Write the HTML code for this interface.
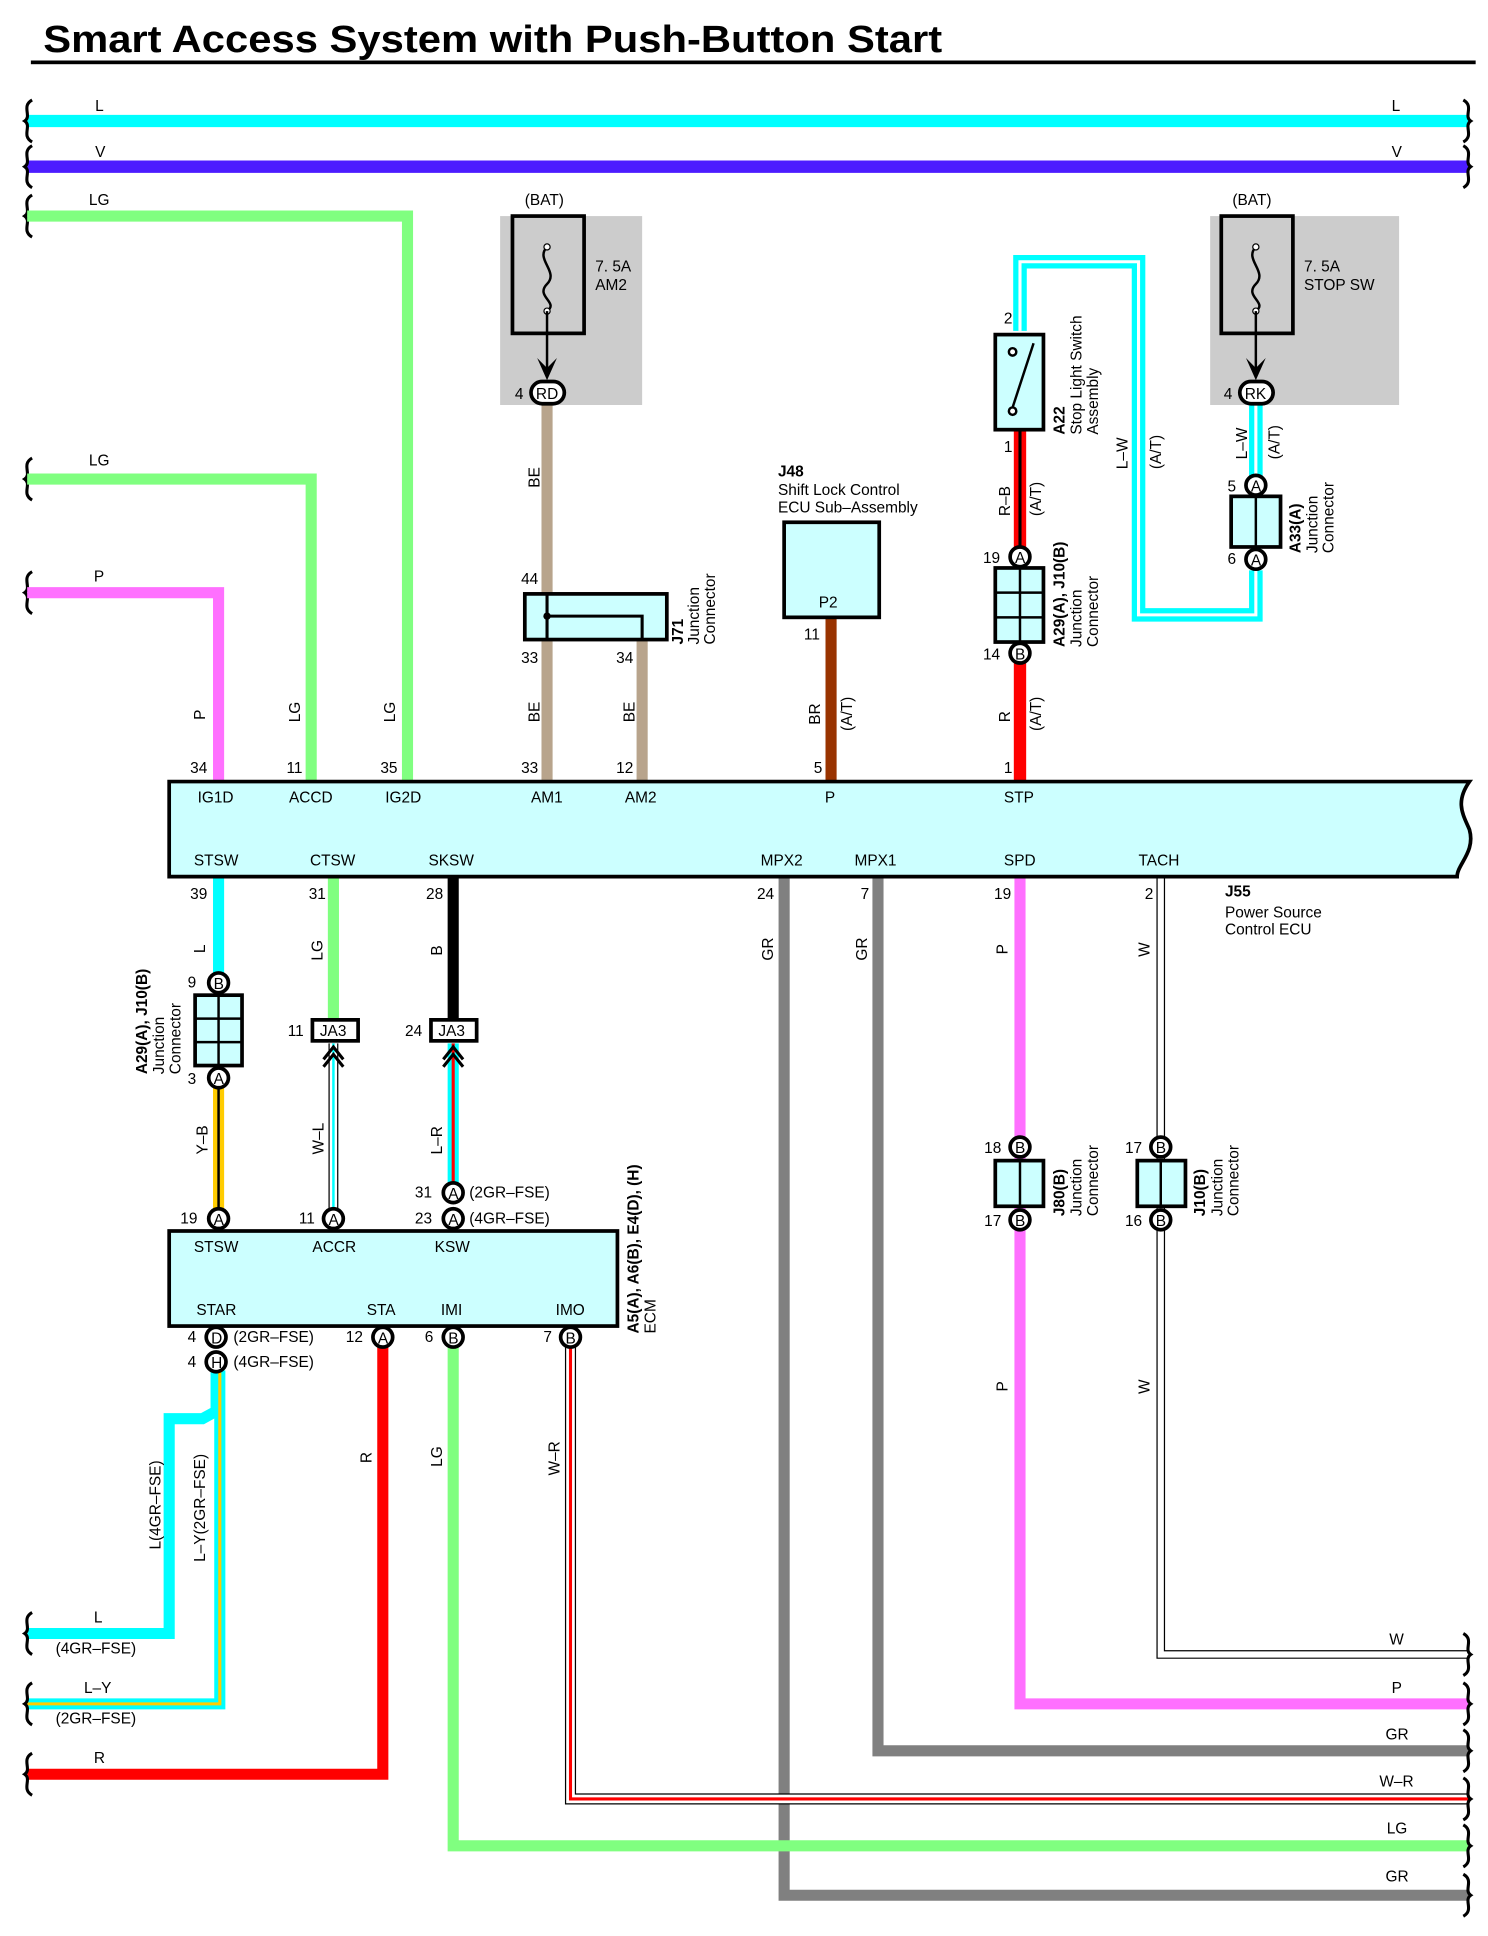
<!DOCTYPE html>
<html><head><meta charset="utf-8"><style>
html,body{margin:0;padding:0;background:#fff}
svg{display:block}
text{font-family:"Liberation Sans",sans-serif;font-size:12.5px;fill:#000}
.b{font-weight:bold}
</style></head><body>
<svg width="1488" height="1936" viewBox="0 0 1205 1568" preserveAspectRatio="none" xmlns="http://www.w3.org/2000/svg">
<defs>
<path id="brL" d="M26,-17 C17,-12 26,-4 20,0 C26,4 17,12 26,17" fill="none" stroke="#000" stroke-width="2.5"/>
<path id="brR" d="M1185,-17 C1194,-12 1185,-4 1191,0 C1185,4 1194,12 1185,17" fill="none" stroke="#000" stroke-width="2.5"/>
</defs>
<text x="35" y="42" class="b" style="font-size:31px" textLength="728" lengthAdjust="spacingAndGlyphs">Smart Access System with Push-Button Start</text>
<rect x="25" y="49" width="1170" height="3" fill="#000"/>

<line x1="22" y1="98" x2="1190" y2="98" stroke="#00ffff" stroke-width="10"/>
<line x1="22" y1="135" x2="1190" y2="135" stroke="#4c1cff" stroke-width="10"/>
<text x="77" y="90">L</text><text x="1127" y="90">L</text>
<text x="77" y="127">V</text><text x="1127" y="127">V</text>
<use href="#brL" y="98"/><use href="#brR" y="98"/>
<use href="#brL" y="135"/><use href="#brR" y="135"/>
<use href="#brL" y="175"/><use href="#brL" y="388"/><use href="#brL" y="480"/>

<path d="M22,175 H330 V633" fill="none" stroke="#80ff80" stroke-width="9"/>
<text x="72" y="166">LG</text>
<path d="M22,388 H252 V633" fill="none" stroke="#80ff80" stroke-width="9"/>
<text x="72" y="377">LG</text>
<path d="M22,480 H177 V633" fill="none" stroke="#ff70ff" stroke-width="9"/>
<text x="76" y="471">P</text>

<rect x="405" y="175" width="115" height="153" fill="#cccccc"/>
<text x="425" y="166">(BAT)</text>
<rect x="415" y="175" width="58" height="95" fill="none" stroke="#000" stroke-width="3"/>
<path d="M443,200 C433,210 453,220 443,230 C433,240 453,245 443,252" fill="none" stroke="#000" stroke-width="2"/>
<circle cx="443" cy="200" r="2.5" fill="#fff" stroke="#000"/><circle cx="443" cy="252" r="2.5" fill="#fff" stroke="#000"/>
<line x1="443" y1="252" x2="443" y2="305" stroke="#000" stroke-width="2"/>
<path d="M435,290 L443,308 L451,290 L443,298 Z" fill="#000"/>
<text x="482" y="220">7. 5A</text><text x="482" y="235">AM2</text>
<line x1="443" y1="326" x2="443" y2="633" stroke="#b8a48c" stroke-width="9"/>
<rect x="430" y="309" width="27" height="18" rx="9" fill="#fff" stroke="#000" stroke-width="3"/>
<text x="434" y="323">RD</text><text x="417" y="323">4</text>
<text x="437" y="395" transform="rotate(-90 437 395)">BE</text>
<text x="422" y="473">44</text>
<line x1="520" y1="518" x2="520" y2="633" stroke="#b8a48c" stroke-width="9"/>
<rect x="425" y="481" width="115" height="37" fill="#ccffff" stroke="#000" stroke-width="3"/>
<path d="M443,481 V518 M443,499 H520 V518" fill="none" stroke="#000" stroke-width="2.5"/>
<circle cx="443" cy="499" r="3" fill="#000"/>
<text x="422" y="537">33</text><text x="499" y="537">34</text>
<text x="553" y="522" transform="rotate(-90 553 522)" class="b">J71</text>
<text x="566" y="522" transform="rotate(-90 566 522)">Junction</text>
<text x="579" y="522" transform="rotate(-90 579 522)">Connector</text>
<text x="437" y="585" transform="rotate(-90 437 585)">BE</text>
<text x="514" y="585" transform="rotate(-90 514 585)">BE</text>

<text x="630" y="386" class="b">J48</text>
<text x="630" y="401">Shift Lock Control</text>
<text x="630" y="415">ECU Sub–Assembly</text>
<line x1="673" y1="500" x2="673" y2="633" stroke="#993300" stroke-width="9"/>
<rect x="635" y="423" width="77" height="77" fill="#ccffff" stroke="#000" stroke-width="3"/>
<text x="663" y="492">P2</text><text x="651" y="518">11</text>
<text x="664" y="587" transform="rotate(-90 664 587)">BR</text>
<text x="690" y="592" transform="rotate(-90 690 592)">(A/T)</text>

<path d="M826,268 V212 H922 V498 H1017 V462" fill="none" stroke="#00ffff" stroke-width="11"/>
<path d="M826,268 V212 H922 V498 H1017 V462" fill="none" stroke="#fff" stroke-width="2.5"/>
<path d="M1017,326 V390" fill="none" stroke="#00ffff" stroke-width="11"/>
<path d="M1017,326 V390" fill="none" stroke="#fff" stroke-width="2.5"/>
<line x1="826" y1="348" x2="826" y2="445" stroke="#f00" stroke-width="10"/>
<line x1="826" y1="348" x2="826" y2="445" stroke="#000" stroke-width="2.5"/>
<line x1="826" y1="535" x2="826" y2="633" stroke="#f00" stroke-width="10"/>
<rect x="806" y="271" width="39" height="77" fill="#ccffff" stroke="#000" stroke-width="3"/>
<circle cx="820" cy="285" r="3" fill="#fff" stroke="#000" stroke-width="2"/>
<circle cx="820" cy="333" r="3" fill="#fff" stroke="#000" stroke-width="2"/>
<line x1="820" y1="330" x2="837" y2="278" stroke="#000" stroke-width="2"/>
<text x="813" y="262">2</text><text x="813" y="366">1</text>
<text x="862" y="352" transform="rotate(-90 862 352)" class="b">A22</text>
<text x="876" y="352" transform="rotate(-90 876 352)">Stop Light Switch</text>
<text x="889" y="352" transform="rotate(-90 889 352)">Assembly</text>
<text x="913" y="380" transform="rotate(-90 913 380)">L–W</text>
<text x="940" y="380" transform="rotate(-90 940 380)">(A/T)</text>
<text x="818" y="418" transform="rotate(-90 818 418)">R–B</text>
<text x="843" y="418" transform="rotate(-90 843 418)">(A/T)</text>
<rect x="806" y="460" width="39" height="60" fill="#ccffff" stroke="#000" stroke-width="3"/>
<path d="M826,460 V520 M806,480 H845 M806,500 H845" stroke="#000" stroke-width="2"/>
<circle cx="826" cy="451" r="8" fill="#fff" stroke="#000" stroke-width="3"/><text x="822" y="456">A</text>
<circle cx="826" cy="529" r="8" fill="#fff" stroke="#000" stroke-width="3"/><text x="822" y="534">B</text>
<text x="796" y="456">19</text><text x="796" y="534">14</text>
<text x="862" y="524" transform="rotate(-90 862 524)" class="b">A29(A), J10(B)</text>
<text x="876" y="524" transform="rotate(-90 876 524)">Junction</text>
<text x="889" y="524" transform="rotate(-90 889 524)">Connector</text>
<text x="818" y="585" transform="rotate(-90 818 585)">R</text>
<text x="843" y="592" transform="rotate(-90 843 592)">(A/T)</text>

<rect x="980" y="175" width="153" height="153" fill="#cccccc"/>
<text x="998" y="166">(BAT)</text>
<rect x="989" y="175" width="58" height="95" fill="none" stroke="#000" stroke-width="3"/>
<path d="M1017,200 C1007,210 1027,220 1017,230 C1007,240 1027,245 1017,252" fill="none" stroke="#000" stroke-width="2"/>
<circle cx="1017" cy="200" r="2.5" fill="#fff" stroke="#000"/><circle cx="1017" cy="252" r="2.5" fill="#fff" stroke="#000"/>
<line x1="1017" y1="252" x2="1017" y2="305" stroke="#000" stroke-width="2"/>
<path d="M1009,290 L1017,308 L1025,290 L1017,298 Z" fill="#000"/>
<text x="1056" y="220">7. 5A</text><text x="1056" y="235">STOP SW</text>
<rect x="1004" y="309" width="27" height="18" rx="9" fill="#fff" stroke="#000" stroke-width="3"/>
<text x="1008" y="323">RK</text><text x="991" y="323">4</text>
<text x="1010" y="372" transform="rotate(-90 1010 372)">L–W</text>
<text x="1036" y="372" transform="rotate(-90 1036 372)">(A/T)</text>
<rect x="997" y="402" width="40" height="41" fill="#ccffff" stroke="#000" stroke-width="3"/>
<line x1="1017" y1="402" x2="1017" y2="443" stroke="#000" stroke-width="2"/>
<circle cx="1017" cy="393" r="8" fill="#fff" stroke="#000" stroke-width="3"/><text x="1013" y="398">A</text>
<circle cx="1017" cy="453" r="8" fill="#fff" stroke="#000" stroke-width="3"/><text x="1013" y="458">A</text>
<text x="994" y="398">5</text><text x="994" y="457">6</text>
<text x="1053" y="448" transform="rotate(-90 1053 448)" class="b">A33(A)</text>
<text x="1067" y="448" transform="rotate(-90 1067 448)">Junction</text>
<text x="1080" y="448" transform="rotate(-90 1080 448)">Connector</text>

<text x="166" y="583" transform="rotate(-90 166 583)">P</text>
<text x="243" y="585" transform="rotate(-90 243 585)">LG</text>
<text x="320" y="585" transform="rotate(-90 320 585)">LG</text>
<text x="154" y="626">34</text><text x="232" y="626">11</text><text x="308" y="626">35</text>
<text x="422" y="626">33</text><text x="499" y="626">12</text><text x="659" y="626">5</text><text x="813" y="626">1</text>

<line x1="177" y1="710" x2="177" y2="790" stroke="#00ffff" stroke-width="9"/>
<line x1="270" y1="710" x2="270" y2="826" stroke="#80ff80" stroke-width="9"/>
<line x1="367" y1="710" x2="367" y2="826" stroke="#000" stroke-width="9"/>
<path d="M635,710 V1535 H1190" fill="none" stroke="#808080" stroke-width="9"/>
<path d="M711,710 V1418 H1190" fill="none" stroke="#808080" stroke-width="9"/>
<path d="M826,710 V1380 H1190" fill="none" stroke="#ff70ff" stroke-width="9"/>
<path d="M940,710 V1340 H1190" fill="none" stroke="#000" stroke-width="7"/>
<path d="M940,710 V1340 H1190" fill="none" stroke="#fff" stroke-width="5"/>
<path d="M177,873 V987" stroke="#ffcc00" stroke-width="9"/>
<path d="M177,873 V987" stroke="#000" stroke-width="2"/>
<path d="M270,845 V987" stroke="#000" stroke-width="8"/>
<path d="M270,845 V987" stroke="#fff" stroke-width="6"/>
<path d="M270,845 V987" stroke="#00ffff" stroke-width="2"/>
<path d="M367,845 V966" stroke="#00ffff" stroke-width="9"/>
<path d="M367,845 V966" stroke="#f00" stroke-width="2.5"/>
<path d="M310,1083 V1437 H22" fill="none" stroke="#f00" stroke-width="9"/>
<path d="M367,1083 V1495 H1190" fill="none" stroke="#80ff80" stroke-width="9"/>
<path d="M462,1083 V1457 H1190" fill="none" stroke="#000" stroke-width="9"/>
<path d="M462,1083 V1457 H1190" fill="none" stroke="#fff" stroke-width="7"/>
<path d="M462,1083 V1457 H1190" fill="none" stroke="#f00" stroke-width="2.5"/>
<path d="M175,1110 V1143 L164,1149 H137 V1323 H22" fill="none" stroke="#00ffff" stroke-width="9"/>
<path d="M178,1110 V1380 H22" fill="none" stroke="#00ffff" stroke-width="9"/>
<path d="M178,1110 V1380 H22" fill="none" stroke="#ffcc00" stroke-width="2.5"/>
<use href="#brL" y="1323"/><use href="#brL" y="1380"/><use href="#brL" y="1437"/>
<use href="#brR" y="1340"/><use href="#brR" y="1380"/><use href="#brR" y="1418"/>
<use href="#brR" y="1457"/><use href="#brR" y="1495"/><use href="#brR" y="1535"/>

<path d="M137,633 H1190 C1178,650 1185,660 1190,672 C1195,690 1180,700 1180,710 H137 Z" fill="#ccffff" stroke="#000" stroke-width="3"/>
<text x="160" y="650">IG1D</text><text x="234" y="650">ACCD</text><text x="312" y="650">IG2D</text>
<text x="430" y="650">AM1</text><text x="506" y="650">AM2</text><text x="668" y="650">P</text><text x="813" y="650">STP</text>
<text x="157" y="701">STSW</text><text x="251" y="701">CTSW</text><text x="347" y="701">SKSW</text>
<text x="616" y="701">MPX2</text><text x="692" y="701">MPX1</text><text x="813" y="701">SPD</text><text x="922" y="701">TACH</text>
<text x="154" y="728">39</text><text x="250" y="728">31</text><text x="345" y="728">28</text>
<text x="613" y="728">24</text><text x="697" y="728">7</text><text x="805" y="728">19</text><text x="927" y="728">2</text>
<text x="992" y="726" class="b">J55</text>
<text x="992" y="743">Power Source</text><text x="992" y="757">Control ECU</text>
<text x="166" y="772" transform="rotate(-90 166 772)">L</text>
<text x="261" y="778" transform="rotate(-90 261 778)">LG</text>
<text x="358" y="774" transform="rotate(-90 358 774)">B</text>
<text x="626" y="778" transform="rotate(-90 626 778)">GR</text>
<text x="702" y="778" transform="rotate(-90 702 778)">GR</text>
<text x="816" y="773" transform="rotate(-90 816 773)">P</text>
<text x="931" y="775" transform="rotate(-90 931 775)">W</text>

<rect x="158" y="806" width="38" height="57" fill="#ccffff" stroke="#000" stroke-width="3"/>
<path d="M177,806 V863 M158,825 H196 M158,844 H196" stroke="#000" stroke-width="2"/>
<circle cx="177" cy="796" r="8" fill="#fff" stroke="#000" stroke-width="3"/><text x="173" y="801">B</text>
<circle cx="177" cy="873" r="8" fill="#fff" stroke="#000" stroke-width="3"/><text x="173" y="878">A</text>
<text x="152" y="800">9</text><text x="152" y="878">3</text>
<text x="119" y="870" transform="rotate(-90 119 870)" class="b">A29(A), J10(B)</text>
<text x="133" y="870" transform="rotate(-90 133 870)">Junction</text>
<text x="146" y="870" transform="rotate(-90 146 870)">Connector</text>
<text x="168" y="935" transform="rotate(-90 168 935)">Y–B</text>
<rect x="253" y="826" width="37" height="17" fill="#fff" stroke="#000" stroke-width="3"/><text x="259" y="839">JA3</text>
<rect x="349" y="826" width="37" height="17" fill="#fff" stroke="#000" stroke-width="3"/><text x="355" y="839">JA3</text>
<path d="M262,858 L270,848 L278,858 M262,864 L270,854 L278,864" fill="none" stroke="#000" stroke-width="2.5"/>
<path d="M359,858 L367,848 L375,858 M359,864 L367,854 L375,864" fill="none" stroke="#000" stroke-width="2.5"/>
<text x="233" y="839">11</text><text x="328" y="839">24</text>
<text x="262" y="935" transform="rotate(-90 262 935)">W–L</text>
<text x="358" y="935" transform="rotate(-90 358 935)">L–R</text>

<rect x="806" y="940" width="39" height="37" fill="#ccffff" stroke="#000" stroke-width="3"/>
<line x1="826" y1="940" x2="826" y2="977" stroke="#000" stroke-width="2"/>
<circle cx="826" cy="929" r="8" fill="#fff" stroke="#000" stroke-width="3"/><text x="822" y="934">B</text>
<circle cx="826" cy="988" r="8" fill="#fff" stroke="#000" stroke-width="3"/><text x="822" y="993">B</text>
<text x="797" y="934">18</text><text x="797" y="993">17</text>
<text x="862" y="985" transform="rotate(-90 862 985)" class="b">J80(B)</text>
<text x="876" y="985" transform="rotate(-90 876 985)">Junction</text>
<text x="889" y="985" transform="rotate(-90 889 985)">Connector</text>
<rect x="921" y="940" width="39" height="37" fill="#ccffff" stroke="#000" stroke-width="3"/>
<line x1="940" y1="940" x2="940" y2="977" stroke="#000" stroke-width="2"/>
<circle cx="940" cy="929" r="8" fill="#fff" stroke="#000" stroke-width="3"/><text x="936" y="934">B</text>
<circle cx="940" cy="988" r="8" fill="#fff" stroke="#000" stroke-width="3"/><text x="936" y="993">B</text>
<text x="911" y="934">17</text><text x="911" y="993">16</text>
<text x="976" y="985" transform="rotate(-90 976 985)" class="b">J10(B)</text>
<text x="990" y="985" transform="rotate(-90 990 985)">Junction</text>
<text x="1003" y="985" transform="rotate(-90 1003 985)">Connector</text>
<text x="816" y="1127" transform="rotate(-90 816 1127)">P</text>
<text x="931" y="1129" transform="rotate(-90 931 1129)">W</text>

<rect x="137" y="997" width="363" height="77" fill="#ccffff" stroke="#000" stroke-width="3"/>
<text x="157" y="1014">STSW</text><text x="253" y="1014">ACCR</text><text x="352" y="1014">KSW</text>
<text x="159" y="1065">STAR</text><text x="297" y="1065">STA</text><text x="357" y="1065">IMI</text><text x="450" y="1065">IMO</text>
<circle cx="177" cy="987" r="8" fill="#fff" stroke="#000" stroke-width="3"/><text x="173" y="992">A</text>
<circle cx="270" cy="987" r="8" fill="#fff" stroke="#000" stroke-width="3"/><text x="266" y="992">A</text>
<circle cx="367" cy="966" r="8" fill="#fff" stroke="#000" stroke-width="3"/><text x="363" y="971">A</text>
<circle cx="367" cy="987" r="8" fill="#fff" stroke="#000" stroke-width="3"/><text x="363" y="992">A</text>
<text x="146" y="991">19</text><text x="242" y="991">11</text><text x="336" y="970">31</text><text x="336" y="991">23</text>
<text x="380" y="970">(2GR–FSE)</text><text x="380" y="991">(4GR–FSE)</text>
<circle cx="175" cy="1083" r="8" fill="#fff" stroke="#000" stroke-width="3"/><text x="171" y="1088">D</text>
<circle cx="175" cy="1103" r="8" fill="#fff" stroke="#000" stroke-width="3"/><text x="171" y="1108">H</text>
<circle cx="310" cy="1083" r="8" fill="#fff" stroke="#000" stroke-width="3"/><text x="306" y="1088">A</text>
<circle cx="367" cy="1083" r="8" fill="#fff" stroke="#000" stroke-width="3"/><text x="363" y="1088">B</text>
<circle cx="462" cy="1083" r="8" fill="#fff" stroke="#000" stroke-width="3"/><text x="458" y="1088">B</text>
<text x="152" y="1087">4</text><text x="152" y="1107">4</text><text x="280" y="1087">12</text><text x="344" y="1087">6</text><text x="440" y="1087">7</text>
<text x="189" y="1087">(2GR–FSE)</text><text x="189" y="1107">(4GR–FSE)</text>
<text x="517" y="1080" transform="rotate(-90 517 1080)" class="b">A5(A), A6(B), E4(D), (H)</text>
<text x="531" y="1080" transform="rotate(-90 531 1080)">ECM</text>

<text x="130" y="1255" transform="rotate(-90 130 1255)">L(4GR–FSE)</text>
<text x="166" y="1265" transform="rotate(-90 166 1265)">L–Y(2GR–FSE)</text>
<text x="301" y="1185" transform="rotate(-90 301 1185)">R</text>
<text x="358" y="1188" transform="rotate(-90 358 1188)">LG</text>
<text x="453" y="1195" transform="rotate(-90 453 1195)">W–R</text>
<text x="76" y="1314">L</text><text x="45" y="1339">(4GR–FSE)</text>
<text x="68" y="1371">L–Y</text><text x="45" y="1396">(2GR–FSE)</text>
<text x="76" y="1428">R</text>
<text x="1125" y="1332">W</text><text x="1127" y="1371">P</text><text x="1122" y="1409">GR</text>
<text x="1117" y="1447">W–R</text><text x="1123" y="1485">LG</text><text x="1122" y="1524">GR</text>
</svg>
</body></html>
